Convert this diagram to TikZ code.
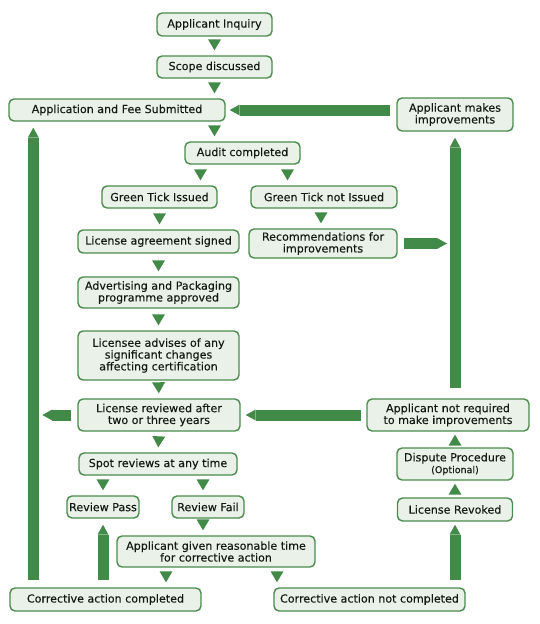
\documentclass[tikz,border=0pt]{standalone}
\usepackage{fontspec}
\setmainfont{DejaVu Sans}
\newfontfamily\boxfont{DejaVu Sans}[FakeBold=0.2]
\usepackage{tikz}
\usetikzlibrary{arrows.meta}
\definecolor{boxgreen}{RGB}{74,140,76}
\definecolor{boxfill}{RGB}{233,241,233}
\definecolor{arrowgreen}{RGB}{66,138,72}
\definecolor{textdark}{RGB}{18,26,18}

\begin{document}
\begin{tikzpicture}[x=1pt, y=-1pt,
		box/.style={draw=boxgreen, fill=boxfill, line width=1.4pt, rounded corners=5pt, align=center, inner sep=0pt, text=textdark, font=\boxfont\fontsize{11.1}{11.8}\selectfont},
		tri/.style={draw=arrowgreen, line width=0.01pt, -{Triangle[length=11pt,width=13pt,line width=0pt]}, shorten <=3pt, shorten >=5pt},
		fat/.style={draw=arrowgreen, line width=11pt, shorten >=10pt, postaction={draw, line width=0.01pt, shorten >=0pt, -{Triangle[length=10pt,width=11pt,line width=0pt]}}}]
		\useasboundingbox (0,0) rectangle (539,624);
		\node[box, minimum width=115pt, minimum height=23pt] (inq) at (214.5,24.5) {Applicant Inquiry};
		\node[box, minimum width=115pt, minimum height=22pt] (scope) at (214.5,67) {Scope discussed};
		\node[box, minimum width=216pt, minimum height=22pt] (app) at (117,110) {Application and Fee Submitted};
		\node[box, minimum width=116pt, minimum height=33pt] (ami) at (455,114.5) {Applicant makes\\improvements};
		\node[box, minimum width=115pt, minimum height=22pt] (audit) at (242.5,153) {Audit completed};
		\node[box, minimum width=115pt, minimum height=22pt] (gti) at (159.5,197) {Green Tick Issued};
		\node[box, minimum width=146pt, minimum height=22pt] (gtni) at (324,197) {Green Tick not Issued};
		\node[box, minimum width=161pt, minimum height=23pt] (las) at (158.5,241.5) {License agreement signed};
		\node[box, minimum width=148pt, minimum height=29pt] (rec) at (323,243.5) {Recommendations for\\improvements};
		\node[box, minimum width=161pt, minimum height=31pt] (adv) at (158.5,292.5) {Advertising and Packaging\\programme approved};
		\node[box, minimum width=161pt, minimum height=49pt] (lic) at (158.5,355.5) {Licensee advises of any\\significant changes\\affecting certification};
		\node[box, minimum width=162pt, minimum height=32pt] (lrev) at (159,415) {License reviewed after\\two or three years};
		\node[box, minimum width=162pt, minimum height=32pt] (anr) at (448,415) {Applicant not required\\to make improvements};
		\node[box, minimum width=158pt, minimum height=22pt] (spot) at (158,464) {Spot reviews at any time};
		\node[box, minimum width=116pt, minimum height=32pt] (dispute) at (455,464) {Dispute Procedure\\{\fontsize{9.5}{10}\selectfont(Optional)}};
		\node[box, minimum width=72pt, minimum height=22pt] (rp) at (103,507) {Review Pass};
		\node[box, minimum width=72pt, minimum height=22pt] (rf) at (208,507) {Review Fail};
		\node[box, minimum width=115pt, minimum height=23pt] (lrv) at (455,509.5) {License Revoked};
		\node[box, minimum width=198pt, minimum height=31pt] (agt) at (216,551.5) {Applicant given reasonable time\\for corrective action};
		\node[box, minimum width=191pt, minimum height=23pt] (cac) at (105.5,599.5) {Corrective action completed};
		\node[box, minimum width=191pt, minimum height=23pt] (canc) at (369.5,599.5) {Corrective action not completed};
		\coordinate (bar) at ([xshift=24pt]cac.north west);
		\draw[tri] (inq.south) -- (scope.north);
		\draw[tri] (scope.south) -- (scope.south |- app.north);
		\draw[tri] (scope.south |- app.south) -- (scope.south |- audit.north);
		\draw[tri] ([xshift=-42pt]audit.south) -- ([xshift=-42pt]audit.south |- gti.north);
		\draw[tri] ([xshift=45pt]audit.south) -- ([xshift=45pt]audit.south |- gtni.north);
		\draw[tri] ([xshift=-3pt]gtni.south) -- ([xshift=-3pt]gtni.south |- rec.north);
		\draw[tri] (gti.south) -- (gti.south |- las.north);
		\draw[tri] (las.south) -- (adv.north);
		\draw[tri] (adv.south) -- (lic.north);
		\draw[tri] (lic.south) -- (lrev.north);
		\draw[tri] (lrev.south) -- (spot.north);
		\draw[tri] (spot.south -| rp.north) -- (rp.north);
		\draw[tri] ([xshift=-5pt]spot.south -| rf.north) -- ([xshift=-5pt]rf.north);
		\draw[tri] ([xshift=-5pt]rf.south) -- ([xshift=-5pt]rf.south |- agt.north);
		\draw[tri] ([xshift=-50pt]agt.south) -- ([xshift=-50pt]agt.south |- cac.north);
		\draw[tri] ([xshift=61pt]agt.south) -- ([xshift=61pt]agt.south |- canc.north);
		\draw[tri, shorten >=3pt] (lrv.north) -- (lrv.north |- dispute.south);
		\draw[tri, shorten >=3pt] (dispute.north) -- (dispute.north |- anr.south);
		\draw[fat] ([xshift=-6pt]ami.west |- app.east) -- ([xshift=4pt]app.east);
		\draw[fat] ([xshift=6pt]rec.east) -- ([xshift=-8pt]rec.east -| ami.south);
		\draw[fat] ([yshift=10pt]anr.north -| ami.south) -- ([yshift=-6pt]ami.south);
		\draw[fat] ([xshift=-5pt]anr.west) -- ([xshift=5pt]lrev.east);
		\draw[fat] ([xshift=-6pt]lrev.west) -- ([xshift=9pt]lrev.west -| bar);
		\draw[fat] ([yshift=7pt]bar) -- ([yshift=-6pt]bar |- app.south);
		\draw[fat] ([yshift=7pt]cac.north -| rp.south) -- ([yshift=-6pt]rp.south);
		\draw[fat] ([yshift=7pt]canc.north -| lrv.south) -- ([yshift=-3pt]lrv.south);
	\end{tikzpicture}
\end{document}
